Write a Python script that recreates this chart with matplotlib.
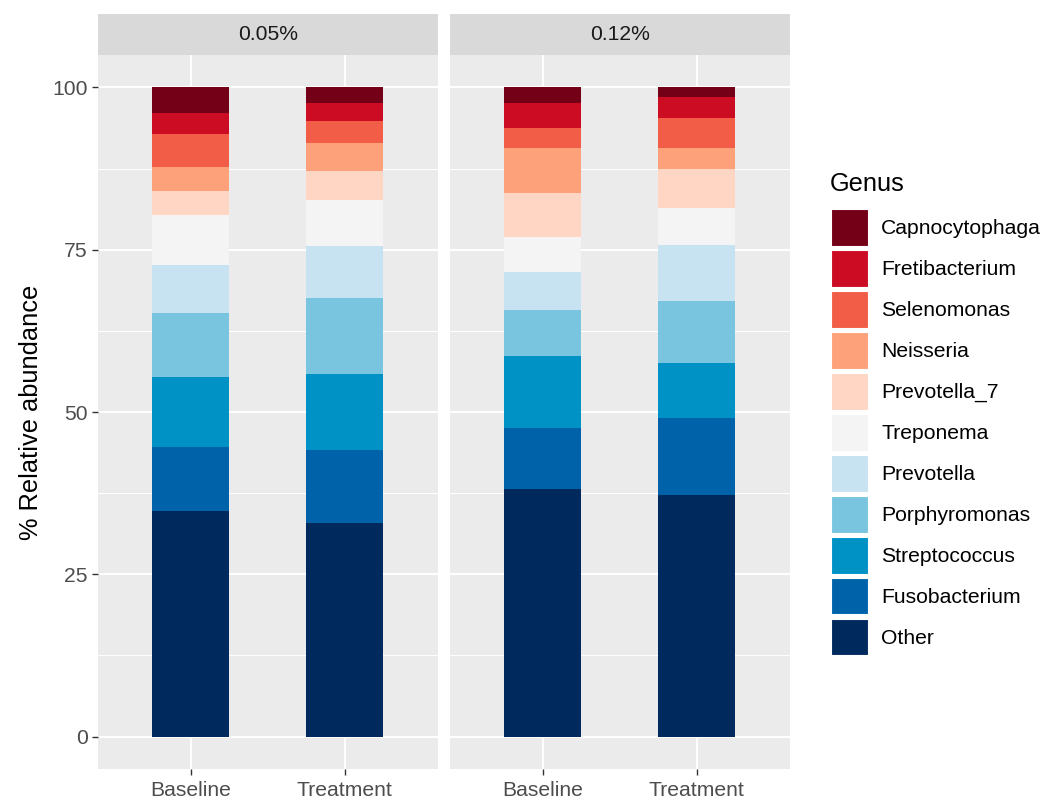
import matplotlib.pyplot as plt
import numpy as np
from matplotlib.patches import Patch

plt.rcParams['font.family'] = ['Liberation Sans', 'DejaVu Sans']

# stacking order from bottom to top
genera = ["Other", "Fusobacterium", "Streptococcus", "Porphyromonas", "Prevotella",
          "Treponema", "Prevotella_7", "Neisseria", "Selenomonas", "Fretibacterium",
          "Capnocytophaga"]
colors = ["#002a5e", "#0063aa", "#0092c5", "#79c4df", "#c7e2f0",
          "#f4f4f4", "#fed6c3", "#fda17a", "#f25d47", "#cc0c22", "#730017"]

groups = ["Baseline", "Treatment"]
panels = ["0.05%", "0.12%"]

# relative abundance (%) per genus, bottom to top
ab_005_baseline = [34.75, 9.85, 10.8, 9.8, 7.5, 7.6, 3.8, 3.6, 5.2, 3.2, 3.9]
ab_005_treatment = [32.9, 11.2, 11.8, 11.7, 8.0, 7.1, 4.4, 4.4, 3.3, 2.8, 2.4]
ab_012_baseline = [38.1, 9.5, 11.0, 7.1, 5.8, 5.5, 6.8, 6.9, 3.0, 3.9, 2.4]
ab_012_treatment = [37.2, 11.8, 8.6, 9.5, 8.6, 5.7, 6.0, 3.3, 4.6, 3.3, 1.4]

panel_data = {
    "0.05%": [ab_005_baseline, ab_005_treatment],
    "0.12%": [ab_012_baseline, ab_012_treatment],
}

W, H = 1048, 800
fig = plt.figure(figsize=(W / 100, H / 100), dpi=100)

panel_lefts = [98, 450]
panel_w = 339.5
panel_top, panel_bot = 55, 769
strip_top = 14

tick_col = "#4d4d4d"
fs = 15.2

for i, name in enumerate(panels):
    left = panel_lefts[i] / W
    ax = fig.add_axes([left, 1 - panel_bot / H, panel_w / W, (panel_bot - panel_top) / H])
    ax.set_facecolor("#ebebeb")
    for s in ax.spines.values():
        s.set_visible(False)

    vals = np.array(panel_data[name])  # shape (2 groups, genera)
    x = np.arange(len(groups))
    bottom = np.zeros(len(groups))
    for j, g in enumerate(genera):
        ax.bar(x, vals[:, j], width=0.5, bottom=bottom, color=colors[j], linewidth=0, zorder=3)
        bottom += vals[:, j]

    ax.set_xlim(-0.6, 1.6)
    ax.set_ylim(-5, 105)
    ax.set_yticks([0, 25, 50, 75, 100])
    ax.set_yticks([12.5, 37.5, 62.5, 87.5], minor=True)
    ax.set_xticks(x)
    ax.set_xticklabels(groups)
    ax.grid(True, which="major", color="white", lw=1.4, zorder=0)
    ax.grid(True, which="minor", axis="y", color="white", lw=0.7, zorder=0)
    ax.set_axisbelow(True)
    ax.tick_params(axis="both", which="major", colors="#333333", length=4.4, width=1.0,
                   labelcolor=tick_col, labelsize=fs, pad=3)
    ax.tick_params(axis="x", which="major", pad=4)
    ax.tick_params(axis="y", which="minor", length=0)
    if i == 0:
        ax.set_ylabel("% Relative abundance", fontsize=18.3, color="black", labelpad=7)
    else:
        ax.tick_params(axis="y", which="both", left=False, labelleft=False)

    # facet strip
    sax = fig.add_axes([left, 1 - panel_top / H, panel_w / W, (panel_top - strip_top) / H])
    sax.set_facecolor("#d9d9d9")
    sax.set_xticks([])
    sax.set_yticks([])
    for s in sax.spines.values():
        s.set_visible(False)
    sax.text(0.5, 0.5, name, ha="center", va="center", fontsize=fs, color="#1a1a1a",
             transform=sax.transAxes)

# legend, top genus first
fig.text(830 / W, 1 - 184 / H, "Genus", ha="left", va="center", fontsize=18.3, color="black")
handles = [Patch(facecolor=colors[j], edgecolor="white", linewidth=0.8) for j in range(len(genera))][::-1]
labels = genera[::-1]
leg = fig.legend(handles, labels, loc="upper left", bbox_to_anchor=(831 / W, 1 - 209 / H),
                 frameon=False, fontsize=fs,
                 handlelength=1.75, handleheight=2.315, labelspacing=0.19,
                 handletextpad=0.62, borderpad=0, borderaxespad=0)

fig.savefig("out.png", dpi=100)
